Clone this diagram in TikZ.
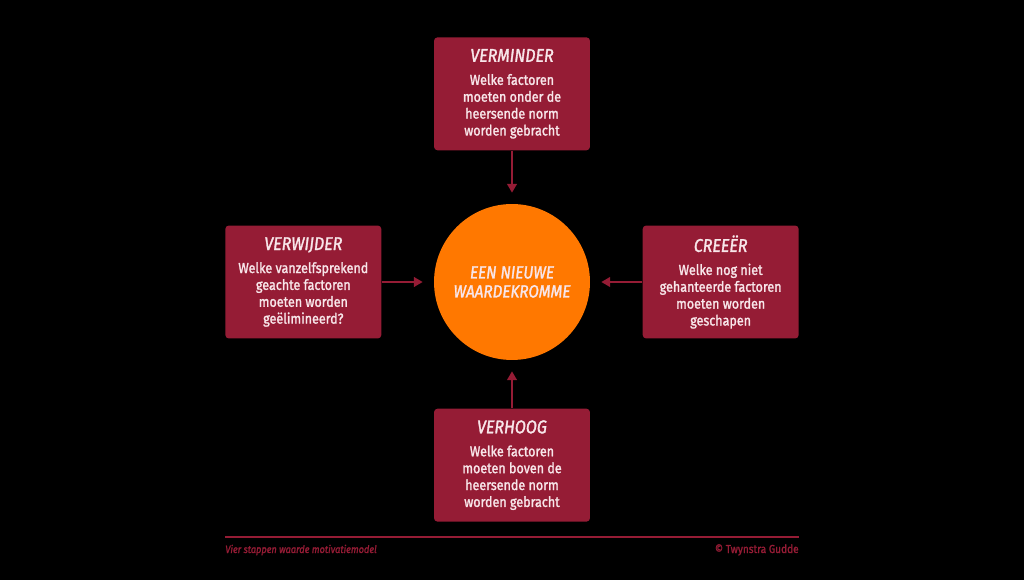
\documentclass[tikz,border=0pt]{standalone}
\usepackage{fontspec}
\setmainfont{Fira Sans}
\newfontfamily\heavyfont{Fira Sans}[FakeStretch=0.87, BoldFont={Fira Sans}, BoldItalicFont={Fira Sans Italic}, BoldFeatures={FakeBold=1.6}, BoldItalicFeatures={FakeBold=1.6}]
\usetikzlibrary{arrows.meta, positioning}

\definecolor{wine}{HTML}{951C35}
\definecolor{tangerine}{HTML}{FF7800}
\definecolor{blush}{HTML}{F8E6EA}

\newcommand{\boxtitle}[1]{{\fontsize{10.5}{12}\selectfont\itshape #1}}

\begin{document}
\begin{tikzpicture}[
  x=0.02cm, y=-0.02cm,
  node distance=1.05cm,
  stepbox/.style={rectangle, fill=wine, rounded corners=2pt, minimum width=3.12cm, minimum height=2.26cm, align=center, text=blush, font=\fontsize{8.2}{9.6}\selectfont\heavyfont\bfseries},
  hub/.style={circle, fill=tangerine, minimum size=3.12cm, inner sep=0pt, align=center, text=blush, font=\fontsize{10}{10.8}\selectfont\heavyfont\bfseries\itshape},
  arr/.style={-{Triangle[length=5pt, width=5.5pt]}, wine, line width=1.1pt, shorten >=0.22cm},
  footnote/.style={font=\fontsize{6}{7}\selectfont\heavyfont\bfseries\itshape, text=wine, inner sep=0pt},
]
\useasboundingbox[fill=black] (0,0) rectangle (1024,580);

\node[hub] (wheel) at (512,282) {EEN NIEUWE\\WAARDEKROMME};

\node[stepbox, above=1.06cm of wheel] (reduce) {\boxtitle{VERMINDER}\\[3.5pt]Welke factoren\\moeten onder de\\heersende norm\\worden gebracht};
\node[stepbox, left=1.04cm of wheel] (remove) {\boxtitle{VERWIJDER}\\[3.5pt]Welke vanzelfsprekend\\geachte factoren\\moeten worden\\geëlimineerd?};
\node[stepbox, right=1.04cm of wheel] (create) {\boxtitle{CREEËR}\\[3.5pt]Welke nog niet\\gehanteerde factoren\\moeten worden\\geschapen};
\node[stepbox, below=0.96cm of wheel] (raise) {\boxtitle{VERHOOG}\\[3.5pt]Welke factoren\\moeten boven de\\heersende norm\\worden gebracht};

% arrows into the centre
\draw[arr] (reduce) -- (wheel);
\draw[arr] (remove) -- (wheel);
\draw[arr] (create) -- (wheel);
\draw[arr] (raise) -- (wheel);

% footer
\coordinate (rulestart) at (225,537);
\coordinate (ruleend) at (799,537);
\draw[wine, line width=1.1pt] (rulestart) -- (ruleend);
\node[footnote, anchor=base west] (caption) at (225,553) {Vier stappen waarde motivatiemodel};
\node[footnote, anchor=base east, font=\fontsize{6.6}{7}\selectfont\heavyfont\bfseries] (credit) at (799,553) {© Twynstra Gudde};
\end{tikzpicture}
\end{document}
